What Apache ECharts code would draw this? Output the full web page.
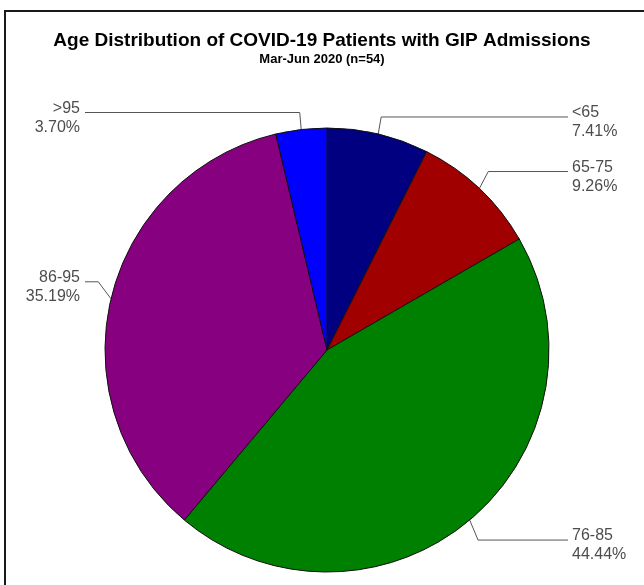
<!DOCTYPE html>
<html>
<head>
<meta charset="utf-8">
<title>Age Distribution of COVID-19 Patients with GIP Admissions</title>
<script src="https://cdn.jsdelivr.net/npm/echarts@6/dist/echarts.min.js"></script>
<style>
  html, body { margin: 0; padding: 0; background: #fff; }
  #chart { width: 644px; height: 585px; }
</style>
</head>
<body>
<div id="chart"></div>
<script>
// Age groups and patient counts (n = 54)
const ageGroups = ['<65', '65-75', '76-85', '86-95', '>95'];
const patientCounts = [4, 5, 24, 19, 2];
const sliceColors = ['#000080', '#a00000', '#008000', '#870080', '#0000ff'];

const total = patientCounts.reduce((a, b) => a + b, 0);
const CX = 327, CY = 350, R = 222;

// angle (clockwise from 12 o'clock) of each slice's middle
const midAngles = [];
let cum = 0;
patientCounts.forEach(v => {
  midAngles.push((cum + v / 2) / total * Math.PI * 2);
  cum += v;
});

const chart = echarts.init(document.getElementById('chart'), null, { renderer: 'canvas' });

chart.setOption({
  backgroundColor: '#ffffff',
  animation: false,
  title: {
    text: 'Age Distribution of COVID-19 Patients with GIP Admissions',
    subtext: 'Mar-Jun 2020 (n=54)',
    left: 'center',
    top: 26,
    itemGap: 3,
    textStyle: { fontFamily: 'Liberation Sans', fontSize: 19, fontWeight: 'bold', color: '#000' },
    subtextStyle: { fontFamily: 'Liberation Sans', fontSize: 13, fontWeight: 'bold', color: '#000' }
  },
  graphic: [{
    type: 'rect',
    shape: { x: 5, y: 11, width: 700, height: 700 },
    style: { fill: 'none', stroke: '#1a1a1a', lineWidth: 2 },
    silent: true
  }],
  series: [{
    type: 'pie',
    center: [CX, CY],
    radius: R,
    startAngle: 90,
    clockwise: true,
    avoidLabelOverlap: false,
    data: ageGroups.map((name, i) => ({
      name: name,
      value: patientCounts[i],
      itemStyle: { color: sliceColors[i] }
    })),
    itemStyle: { borderColor: '#111', borderWidth: 1 },
    label: {
      show: true,
      position: 'outside',
      formatter: p => p.name + '\n' + (p.value / total * 100).toFixed(2) + '%',
      fontFamily: 'Liberation Sans',
      fontSize: 16,
      lineHeight: 19,
      color: '#4d4d4d'
    },
    labelLine: {
      show: true,
      length: 15,
      length2: 20,
      lineStyle: { color: '#555', width: 1 }
    },
    // elbow leader lines: short leg off the slice edge, then a horizontal run to the label column
    labelLayout: function (params) {
      const i = params.dataIndex;
      const a = midAngles[i];
      const ux = Math.sin(a), uy = -Math.cos(a);
      const p0 = [CX + R * ux, CY + R * uy];
      const right = ux >= 0;
      const elbow = [p0[0] + ux * 13, p0[1] + (uy < 0 ? -17 : 20)];
      const endX = right ? 568 : 85;
      return {
        x: right ? 572 : 80,
        y: elbow[1] + 5.5,
        align: right ? 'left' : 'right',
        verticalAlign: 'middle',
        labelLinePoints: [p0, elbow, [endX, elbow[1]]]
      };
    }
  }]
});
</script>
</body>
</html>
